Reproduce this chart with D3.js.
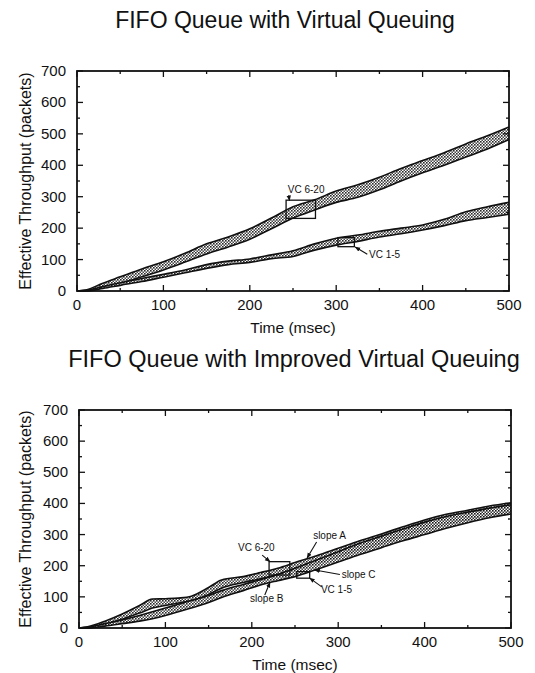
<!DOCTYPE html>
<html>
<head>
<meta charset="utf-8">
<script src="https://cdn.jsdelivr.net/npm/d3@7"></script>
<style>
  body { margin: 0; background: #fff; }
  text { font-family: "Liberation Sans", Arial, Helvetica, sans-serif; fill: #111; }
</style>
</head>
<body>
<div id="chart"></div>
<script>
// time axis (msec), shared by both panels
var timeTop = [0, 10, 30, 50, 75, 100, 125, 150, 175, 200, 225, 250, 275, 300, 325, 350, 375, 400, 425, 450, 475, 500];
var topVc620Upper = [0, 3, 25, 45, 70, 93, 120, 150, 172, 198, 232, 268, 290, 318, 338, 362, 390, 415, 440, 468, 494, 522];
var topVc620Lower = [0, 0, 12, 24, 45, 67, 92, 118, 140, 165, 198, 232, 258, 282, 298, 322, 350, 376, 400, 426, 452, 482];
var topVc15Upper  = [0, 2, 14, 26, 40, 53, 67, 84, 95, 102, 115, 128, 150, 168, 178, 190, 200, 210, 228, 252, 268, 282];
var topVc15Lower  = [0, 0, 8, 18, 30, 44, 58, 72, 84, 91, 103, 110, 130, 146, 158, 172, 182, 194, 208, 224, 234, 244];

var timeBottom = [0, 10, 30, 50, 70, 85, 100, 115, 130, 150, 165, 190, 210, 230, 250, 275, 300, 325, 350, 375, 400, 425, 450, 475, 500];
var botVc620Upper = [0, 4, 22, 45, 72, 93, 94, 96, 102, 130, 154, 165, 178, 192, 210, 232, 256, 280, 302, 325, 347, 365, 378, 392, 402];
var botVc620Lower = [0, 0, 12, 28, 48, 64, 72, 80, 88, 108, 128, 146, 158, 172, 188, 208, 230, 252, 272, 295, 316, 334, 348, 362, 374];
var botVc15Upper  = [0, 2, 14, 26, 40, 52, 64, 76, 88, 104, 120, 140, 155, 172, 192, 218, 245, 272, 295, 318, 340, 358, 372, 385, 396];
var botVc15Lower  = [0, 0, 6, 14, 22, 30, 40, 52, 64, 82, 98, 120, 138, 152, 165, 188, 212, 236, 258, 280, 300, 320, 338, 354, 366];

var xTicks = [0, 100, 200, 300, 400, 500];
var yTicks = [0, 100, 200, 300, 400, 500, 600, 700];

// annotations, in data units (time, packets)
var topBoxes = [
    { t0: 242, t1: 276, v0: 231, v1: 289 },
    { t0: 302, t1: 321, v0: 141, v1: 170 }
];
var topNotes = [
    { text: "VC 6-20", t: 244, v: 312, from: [245, 305], to: [246, 288] },
    { text: "VC 1-5", t: 338, v: 104, from: [336, 117], to: [322, 140] }
];
var botBoxes = [
    { t0: 220, t1: 244, v0: 170, v1: 213 },
    { t0: 252, t1: 267, v0: 160, v1: 181 }
];
var botNotes = [
    { text: "VC 6-20", t: 184, v: 247, from: [212, 234], to: [221, 213] },
    { text: "slope A", t: 271, v: 286, from: [275, 276], to: [264, 225] },
    { text: "slope C", t: 304, v: 160, from: [302, 172], to: [273, 186] },
    { text: "VC 1-5", t: 280, v: 111, from: [281, 132], to: [267, 160] },
    { text: "slope B", t: 198, v: 83, from: [215, 106], to: [221, 146] }
];

var svg = d3.select("#chart")
    .append("svg")
    .attr("width", 535)
    .attr("height", 673);

var defs = svg.append("defs");
var pat = defs.append("pattern")
    .attr("id", "stipple")
    .attr("width", 3)
    .attr("height", 3)
    .attr("patternUnits", "userSpaceOnUse");
pat.append("rect").attr("width", 3).attr("height", 3).attr("fill", "#fff");
pat.append("rect").attr("x", 0).attr("y", 0).attr("width", 1.6).attr("height", 1.6).attr("fill", "#111");
pat.append("rect").attr("x", 1.5).attr("y", 1.5).attr("width", 1.6).attr("height", 1.6).attr("fill", "#333");

defs.append("marker")
    .attr("id", "arrow")
    .attr("viewBox", "0 0 10 10")
    .attr("refX", 9)
    .attr("refY", 5)
    .attr("markerWidth", 5)
    .attr("markerHeight", 5)
    .attr("orient", "auto")
    .append("path")
    .attr("d", "M0,1 L10,5 L0,9 Z")
    .attr("fill", "#111");

function drawChart(cfg) {
    var x = d3.scaleLinear().domain([0, 500]).range([cfg.left, cfg.right]);
    var y = d3.scaleLinear().domain([0, 700]).range([cfg.bottom, cfg.top]);

    svg.append("text")
        .attr("x", cfg.titleX)
        .attr("y", cfg.titleY)
        .attr("text-anchor", "middle")
        .attr("font-size", cfg.titleSize)
        .text(cfg.title);

    var g = svg.append("g");

    // bands
    cfg.bands.forEach(function (b) {
        var rows = b.time.map(function (t, i) { return { t: t, hi: b.upper[i], lo: b.lower[i] }; });
        var area = d3.area()
            .x(function (d) { return x(d.t); })
            .y0(function (d) { return y(d.lo); })
            .y1(function (d) { return y(d.hi); })
            .curve(d3.curveMonotoneX);
        g.append("path")
            .datum(rows)
            .attr("d", area)
            .attr("fill", "url(#stipple)")
            .attr("opacity", 0.9);
        ["hi", "lo"].forEach(function (k) {
            g.append("path")
                .datum(rows)
                .attr("d", d3.line()
                    .x(function (d) { return x(d.t); })
                    .y(function (d) { return y(d[k]); })
                    .curve(d3.curveMonotoneX))
                .attr("fill", "none")
                .attr("stroke", "#111")
                .attr("stroke-width", 1.6);
        });
    });

    // boxes
    g.selectAll(".box")
        .data(cfg.boxes)
        .enter()
        .append("rect")
        .attr("x", function (d) { return x(d.t0); })
        .attr("y", function (d) { return y(d.v1); })
        .attr("width", function (d) { return x(d.t1) - x(d.t0); })
        .attr("height", function (d) { return y(d.v0) - y(d.v1); })
        .attr("fill", "none")
        .attr("stroke", "#111")
        .attr("stroke-width", 1.3);

    // notes with arrows
    cfg.notes.forEach(function (n) {
        g.append("line")
            .attr("x1", x(n.from[0])).attr("y1", y(n.from[1]))
            .attr("x2", x(n.to[0])).attr("y2", y(n.to[1]))
            .attr("stroke", "#111")
            .attr("stroke-width", 1.1)
            .attr("marker-end", "url(#arrow)");
        g.append("text")
            .attr("x", x(n.t))
            .attr("y", y(n.v))
            .attr("font-size", "10px")
            .text(n.text);
    });

    // ticks (inside, all four sides)
    var minorX = d3.range(50, 500, 100);
    var minorY = d3.range(50, 700, 100);
    var tk = svg.append("g").attr("stroke", "#111").attr("stroke-width", 1.3);
    xTicks.concat(minorX).forEach(function (t) {
        var len = xTicks.indexOf(t) >= 0 ? 6 : 3;
        tk.append("line").attr("x1", x(t)).attr("x2", x(t)).attr("y1", cfg.bottom).attr("y2", cfg.bottom - len);
        tk.append("line").attr("x1", x(t)).attr("x2", x(t)).attr("y1", cfg.top).attr("y2", cfg.top + len);
    });
    yTicks.concat(minorY).forEach(function (v) {
        var len = yTicks.indexOf(v) >= 0 ? 6 : 3;
        tk.append("line").attr("y1", y(v)).attr("y2", y(v)).attr("x1", cfg.left).attr("x2", cfg.left + len);
        tk.append("line").attr("y1", y(v)).attr("y2", y(v)).attr("x1", cfg.right).attr("x2", cfg.right - len);
    });

    svg.append("rect")
        .attr("x", cfg.left)
        .attr("y", cfg.top)
        .attr("width", cfg.right - cfg.left)
        .attr("height", cfg.bottom - cfg.top)
        .attr("fill", "none")
        .attr("stroke", "#111")
        .attr("stroke-width", 1.8);

    // tick labels
    svg.selectAll(null)
        .data(xTicks)
        .enter()
        .append("text")
        .attr("x", function (d) { return x(d); })
        .attr("y", cfg.bottom + 19)
        .attr("text-anchor", "middle")
        .attr("font-size", "15px")
        .text(function (d) { return d; });

    svg.selectAll(null)
        .data(yTicks)
        .enter()
        .append("text")
        .attr("x", cfg.left - 11)
        .attr("y", function (d) { return y(d) + 5; })
        .attr("text-anchor", "end")
        .attr("font-size", "15px")
        .text(function (d) { return d; });

    svg.append("text")
        .attr("x", (cfg.left + cfg.right) / 2)
        .attr("y", cfg.bottom + 42)
        .attr("text-anchor", "middle")
        .attr("font-size", "15.5px")
        .text("Time (msec)");

    svg.append("text")
        .attr("transform", "translate(" + 31 + "," + ((cfg.top + cfg.bottom) / 2) + ") rotate(-90)")
        .attr("text-anchor", "middle")
        .attr("font-size", "16px")
        .text("Effective Throughput (packets)");
}

drawChart({
    title: "FIFO Queue with Virtual Queuing",
    titleX: 285, titleY: 28, titleSize: "23px",
    left: 77, right: 509, top: 71, bottom: 291,
    bands: [
        { time: timeTop, upper: topVc620Upper, lower: topVc620Lower },
        { time: timeTop, upper: topVc15Upper, lower: topVc15Lower }
    ],
    boxes: topBoxes,
    notes: topNotes
});

drawChart({
    title: "FIFO Queue with Improved Virtual Queuing",
    titleX: 294, titleY: 367, titleSize: "23.5px",
    left: 79, right: 511, top: 410, bottom: 628,
    bands: [
        { time: timeBottom, upper: botVc620Upper, lower: botVc620Lower },
        { time: timeBottom, upper: botVc15Upper, lower: botVc15Lower }
    ],
    boxes: botBoxes,
    notes: botNotes
});
</script>
</body>
</html>
